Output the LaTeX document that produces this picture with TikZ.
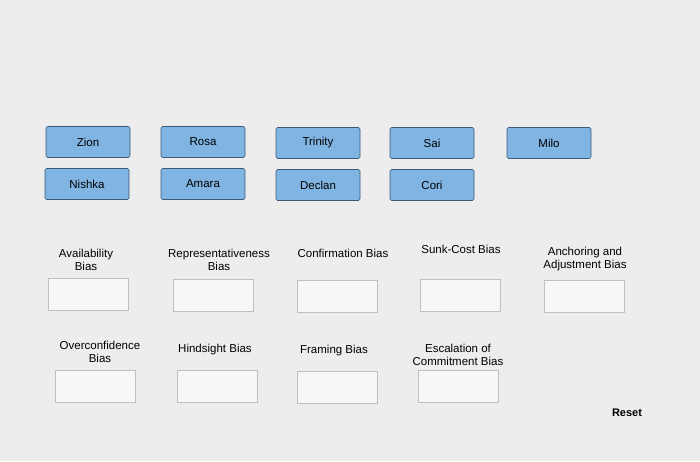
\documentclass[tikz,border=0pt]{standalone}
\usepackage{fontspec}
\setmainfont{Liberation Sans}
\begin{document}
\begin{tikzpicture}[x=1pt,y=-1pt,
  card/.style={draw={rgb,255:red,60;green,90;blue,120}, fill={rgb,255:red,128;green,180;blue,226}, minimum width=84pt, minimum height=31pt, rounded corners=1.5pt, font=\fontsize{11.5}{13}\selectfont, line width=0.6pt},
  slot/.style={draw=gray!50, fill=gray!6, minimum width=80pt, minimum height=32pt, line width=0.8pt},
  lab/.style={align=center, font=\fontsize{11.5}{12.5}\selectfont}]
\fill[gray!14] (0,0) rectangle (700,461);
\useasboundingbox (0,0) rectangle (700,461);
\node[card] (zion) at (88,142) {Zion};
\node[card] (rosa) at (203,142) {Rosa};
\node[card] (trinity) at (318,143) {Trinity};
\node[card] (sai) at (432,143) {Sai};
\node[card] (milo) at (549,143) {Milo};
\node[card] (nishka) at (87,184) {Nishka};
\node[card] (amara) at (203,184) {Amara};
\node[card] (declan) at (318,185) {Declan};
\node[card] (cori) at (432,185) {Cori};
\node[lab] (l1) at (86,260) {Availability\\Bias};
\node[lab] (l2) at (219,260) {Representativeness\\Bias};
\node[lab] (l3) at (343,253) {Confirmation Bias};
\node[lab] (l4) at (461,249) {Sunk-Cost Bias};
\node[lab] (l5) at (585,259) {Anchoring and\\Adjustment Bias};
\node[slot] (s1) at (88,294) {};
\node[slot] (s2) at (213,295) {};
\node[slot] (s3) at (337,296) {};
\node[slot] (s4) at (460,295) {};
\node[slot] (s5) at (584,296) {};
\node[lab] (l6) at (100,352) {Overconfidence\\Bias};
\node[lab] (l7) at (215,350) {Hindsight Bias};
\node[lab] (l8) at (334,351) {Framing Bias};
\node[lab] (l9) at (458,355) {Escalation of\\Commitment Bias};
\node[slot] (s6) at (95,386) {};
\node[slot] (s7) at (217,386) {};
\node[slot] (s8) at (337,387) {};
\node[slot] (s9) at (458,386) {};
\node[font=\fontsize{11}{12}\selectfont\bfseries] (reset) at (627,413) {Reset};
\end{tikzpicture}
\end{document}
